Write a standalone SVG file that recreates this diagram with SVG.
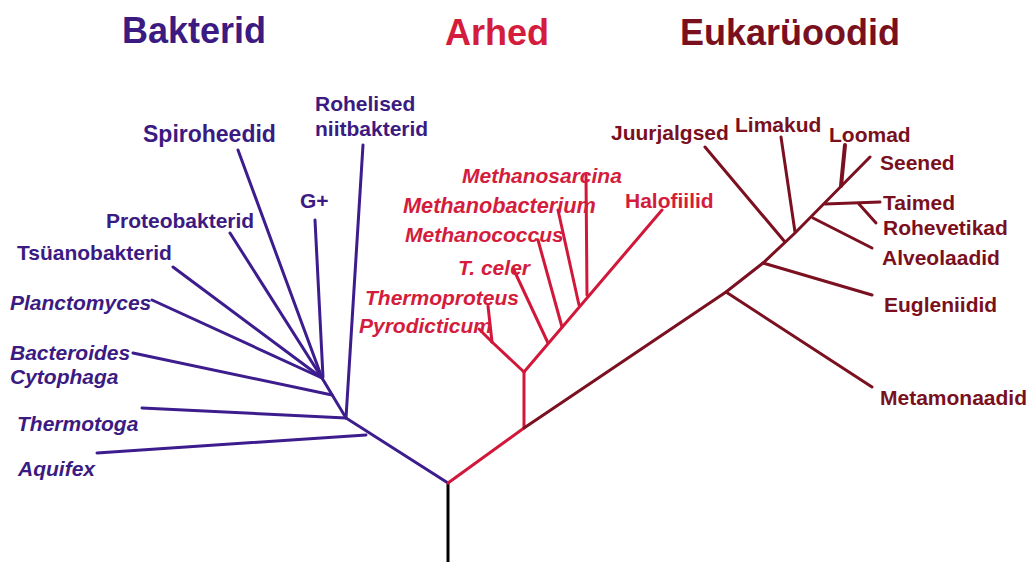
<svg xmlns="http://www.w3.org/2000/svg" width="1031" height="562" viewBox="0 0 1031 562">
<style>
text{font-family:"Liberation Sans",Arial,sans-serif;font-weight:bold;font-size:21px}
.title{font-size:36px}
.it{font-style:italic}
.b{fill:#3b1a82}
.a{fill:#d41c3c}
.e{fill:#7a0f1e}
.lb{stroke:#3d1c8e;stroke-width:3;fill:none;stroke-linecap:round}
.la{stroke:#d2183a;stroke-width:3;fill:none;stroke-linecap:round}
.le{stroke:#7a1020;stroke-width:3;fill:none;stroke-linecap:round}
</style>
<rect width="1031" height="562" fill="#ffffff"/>
<g id="titles">
<text class="title b" x="122" y="43">Bakterid</text>
<text class="title a" x="445" y="45">Arhed</text>
<text class="title e" x="680" y="45">Eukarüoodid</text>
</g>
<g id="connectors">
<line x1="448" y1="483" x2="448" y2="562" stroke="#000" stroke-width="3"/>
<!-- bacteria -->
<polyline class="lb" points="448,483 346,418 322,378"/>
<line class="lb" x1="366" y1="435" x2="97" y2="453"/>
<line class="lb" x1="346" y1="418" x2="142" y2="408"/>
<line class="lb" x1="346" y1="418" x2="363" y2="145"/>
<line class="lb" x1="332" y1="395" x2="133" y2="353"/>
<line class="lb" x1="322" y1="378" x2="152" y2="300"/>
<line class="lb" x1="322" y1="378" x2="173" y2="267"/>
<line class="lb" x1="322" y1="378" x2="230" y2="233"/>
<line class="lb" x1="322" y1="378" x2="238" y2="150"/>
<line class="lb" x1="323" y1="377" x2="315" y2="220"/>
<!-- archaea -->
<polyline class="la" points="448,483 524,428 524,372"/>
<line class="la" x1="524" y1="372" x2="662" y2="210"/>
<line class="la" x1="524" y1="372" x2="492" y2="342"/>
<line class="la" x1="492" y1="342" x2="488" y2="306"/>
<line class="la" x1="492" y1="342" x2="479" y2="329"/>
<line class="la" x1="548" y1="343" x2="513" y2="268"/>
<line class="la" x1="562" y1="327" x2="538" y2="240"/>
<line class="la" x1="579" y1="305" x2="558" y2="210"/>
<line class="la" x1="587" y1="295" x2="586" y2="175"/>
<!-- eukaryotes -->
<polyline class="le" points="524,428 726,292 763,263 795,233 870,157"/>
<line class="le" x1="726" y1="292" x2="872" y2="387"/>
<line class="le" x1="763" y1="263" x2="872" y2="295"/>
<line class="le" x1="785" y1="242" x2="705" y2="147"/>
<line class="le" x1="795" y1="232" x2="781" y2="137"/>
<line class="le" x1="813" y1="218" x2="872" y2="248"/>
<line class="le" x1="825" y1="204" x2="880" y2="202"/>
<line class="le" x1="859" y1="204" x2="876" y2="223"/>
<line class="le" x1="841" y1="186" x2="845" y2="145" style="stroke-width:4"/>
</g>
<g id="n-rohelised"><text class="b" x="315" y="111">Rohelised</text><text class="b" x="315" y="136">niitbakterid</text></g>
<g id="n-spiroheedid"><text class="b" x="143" y="142" style="font-size:23px">Spiroheedid</text></g>
<g id="n-gplus"><text class="b" x="300" y="208">G+</text></g>
<g id="n-proteobakterid"><text class="b" x="106" y="228">Proteobakterid</text></g>
<g id="n-tsuanobakterid"><text class="b" x="17" y="260">Tsüanobakterid</text></g>
<g id="n-planctomyces"><text class="b it" x="10" y="310">Planctomyces</text></g>
<g id="n-bacteroides"><text class="b it" x="10" y="360">Bacteroides</text><text class="b it" x="10" y="384">Cytophaga</text></g>
<g id="n-thermotoga"><text class="b it" x="17" y="431">Thermotoga</text></g>
<g id="n-aquifex"><text class="b it" x="18" y="476">Aquifex</text></g>
<g id="n-methanosarcina"><text class="a it" x="462" y="183">Methanosarcina</text></g>
<g id="n-methanobacterium"><text class="a it" x="403" y="213" style="font-size:21.7px">Methanobacterium</text></g>
<g id="n-methanococcus"><text class="a it" x="405" y="242">Methanococcus</text></g>
<g id="n-tceler"><text class="a it" x="458" y="275">T. celer</text></g>
<g id="n-thermoproteus"><text class="a it" x="365" y="305">Thermoproteus</text></g>
<g id="n-pyrodicticum"><text class="a it" x="359" y="333">Pyrodicticum</text></g>
<g id="n-halofiilid"><text class="a" x="625" y="208">Halofiilid</text></g>
<g id="n-juurjalgsed"><text class="e" x="611" y="140">Juurjalgsed</text></g>
<g id="n-limakud"><text class="e" x="735" y="132">Limakud</text></g>
<g id="n-loomad"><text class="e" x="829" y="142">Loomad</text></g>
<g id="n-seened"><text class="e" x="880" y="170">Seened</text></g>
<g id="n-taimed"><text class="e" x="883" y="210">Taimed</text></g>
<g id="n-rohevetikad"><text class="e" x="883" y="235">Rohevetikad</text></g>
<g id="n-alveolaadid"><text class="e" x="882" y="265">Alveolaadid</text></g>
<g id="n-eugleniidid"><text class="e" x="884" y="312">Eugleniidid</text></g>
<g id="n-metamonaadid"><text class="e" x="880" y="405">Metamonaadid</text></g>
</svg>
